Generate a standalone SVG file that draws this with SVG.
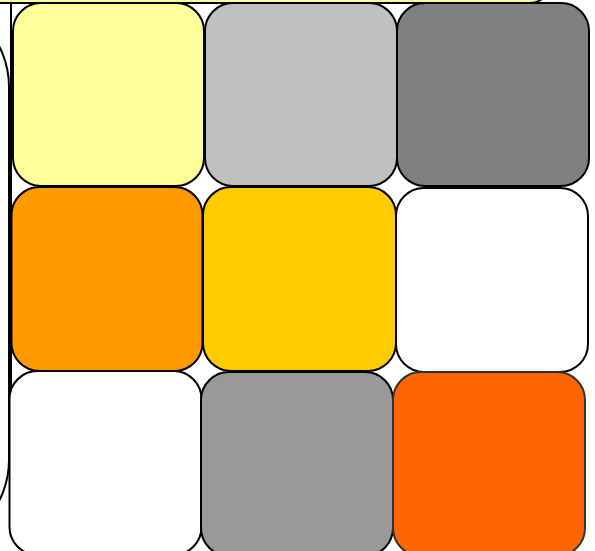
<svg xmlns="http://www.w3.org/2000/svg" width="595" height="551" viewBox="0 0 595 551">
<style>
.t{stroke:#000;stroke-width:2}
.bg{fill:#fff;stroke:#000;stroke-width:2}
</style>
<rect width="595" height="551" fill="#fff"/>
<g id="left-shape"><rect class="bg" x="-300" y="-2" width="309" height="551" rx="89" ry="89"/></g>
<g id="frame"><line x1="11" y1="3" x2="11" y2="390" stroke="#000" stroke-width="2"/></g>
<g id="top-strip"><rect x="-60" y="-100" width="610" height="103" rx="20" ry="20" fill="#FFFF99" stroke="#000" stroke-width="2"/></g>
<g id="tile-1"><rect class="t" x="13" y="3" width="191" height="183" rx="28" ry="28" fill="#FFFF99"/></g>
<g id="tile-2"><rect class="t" x="205" y="3" width="192" height="183" rx="28" ry="28" fill="#C0C0C0"/></g>
<g id="tile-3"><rect class="t" x="397" y="3" width="192" height="183" rx="28" ry="28" fill="#808080"/></g>
<g id="tile-4"><rect class="t" x="11.5" y="187" width="191" height="184" rx="28" ry="28" fill="#FF9900"/></g>
<g id="tile-5"><rect class="t" x="203" y="187" width="193" height="184" rx="28" ry="28" fill="#FFCC00"/></g>
<g id="tile-6"><rect class="t" x="396" y="188" width="192" height="184" rx="28" ry="28" fill="#FFFFFF"/></g>
<g id="tile-7"><rect class="t" x="9.5" y="371" width="192" height="184" rx="28" ry="28" fill="#FFFFFF"/></g>
<g id="tile-8"><rect class="t" x="201" y="372" width="192" height="184" rx="28" ry="28" fill="#999999"/></g>
<g id="tile-9"><rect x="393" y="372" width="192" height="184" rx="28" ry="28" fill="#FF6600" stroke="#333" stroke-width="2"/></g>
</svg>
